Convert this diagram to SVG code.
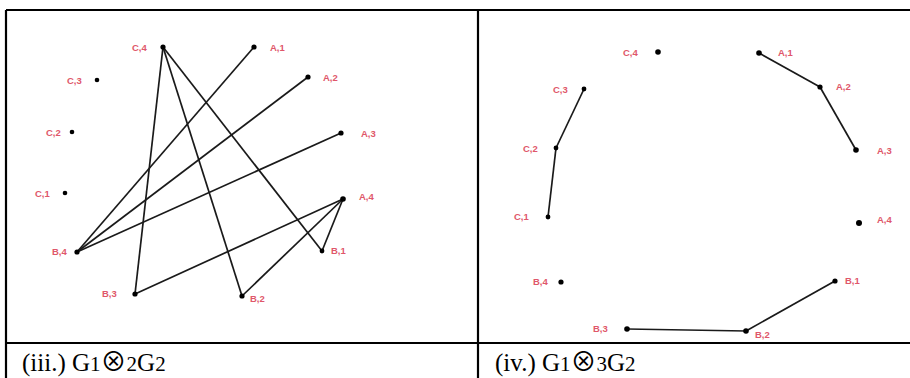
<svg xmlns="http://www.w3.org/2000/svg" width="910" height="378" viewBox="0 0 910 378">
<style>
.frame{stroke:#000;stroke-width:2.2;fill:none}
.edge{stroke:#1a1a1a;stroke-width:1.7;fill:none}
.dot{fill:#000}
.lbl{font-family:"Liberation Sans",Arial,sans-serif;font-size:9.5px;font-weight:bold;fill:#e0576a;dominant-baseline:central}
.cap{font-family:"Liberation Serif","Times New Roman",serif;font-size:25px;fill:#000}
.sub{font-size:21px}
.ot{font-family:"Noto Sans CJK SC","DejaVu Sans",sans-serif;font-weight:400;font-size:26px}
</style>
<rect x="0" y="0" width="910" height="378" fill="#fff"/>
<g id="frame">
<line class="frame" x1="6" y1="10" x2="910" y2="10"/>
<line class="frame" x1="6" y1="10" x2="6" y2="378"/>
<line class="frame" x1="478" y1="10" x2="478" y2="378"/>
<line class="frame" x1="6" y1="343" x2="910" y2="343"/>
</g>
<g id="connectors">
<line class="edge" x1="163" y1="47" x2="135" y2="294"/>
<line class="edge" x1="163" y1="47" x2="242" y2="296"/>
<line class="edge" x1="163" y1="47" x2="322" y2="251"/>
<line class="edge" x1="77" y1="252" x2="254" y2="47"/>
<line class="edge" x1="77" y1="252" x2="308" y2="77"/>
<line class="edge" x1="77" y1="252" x2="341" y2="133"/>
<line class="edge" x1="343" y1="199" x2="135" y2="294"/>
<line class="edge" x1="343" y1="199" x2="242" y2="296"/>
<line class="edge" x1="343" y1="199" x2="322" y2="251"/>
<line class="edge" x1="759" y1="53" x2="820" y2="87"/>
<line class="edge" x1="820" y1="87" x2="856" y2="150"/>
<line class="edge" x1="584" y1="89" x2="556" y2="148"/>
<line class="edge" x1="556" y1="148" x2="548" y2="217"/>
<line class="edge" x1="835" y1="281" x2="746" y2="331"/>
<line class="edge" x1="746" y1="331" x2="627" y2="329"/>
</g>
<g id="L-C4"><circle class="dot" cx="163" cy="47" r="2.6"/><text class="lbl" x="132" y="47">C,4</text></g>
<g id="L-A1"><circle class="dot" cx="254" cy="47" r="2.6"/><text class="lbl" x="270" y="47">A,1</text></g>
<g id="L-A2"><circle class="dot" cx="308" cy="77" r="2.6"/><text class="lbl" x="323" y="77">A,2</text></g>
<g id="L-C3"><circle class="dot" cx="97" cy="80" r="2.3"/><text class="lbl" x="67" y="80">C,3</text></g>
<g id="L-C2"><circle class="dot" cx="72" cy="132" r="2.3"/><text class="lbl" x="46" y="132">C,2</text></g>
<g id="L-A3"><circle class="dot" cx="341" cy="133" r="2.6"/><text class="lbl" x="361" y="133">A,3</text></g>
<g id="L-C1"><circle class="dot" cx="65" cy="193" r="2.3"/><text class="lbl" x="35" y="193">C,1</text></g>
<g id="L-A4"><circle class="dot" cx="343" cy="199" r="2.8"/><text class="lbl" x="359" y="196">A,4</text></g>
<g id="L-B4"><circle class="dot" cx="77" cy="252" r="2.6"/><text class="lbl" x="52" y="251">B,4</text></g>
<g id="L-B1"><circle class="dot" cx="322" cy="251" r="2.4"/><text class="lbl" x="331" y="250">B,1</text></g>
<g id="L-B3"><circle class="dot" cx="135" cy="294" r="2.6"/><text class="lbl" x="102" y="293">B,3</text></g>
<g id="L-B2"><circle class="dot" cx="242" cy="296" r="2.6"/><text class="lbl" x="250" y="298">B,2</text></g>
<g id="R-C4"><circle class="dot" cx="658" cy="52" r="2.8"/><text class="lbl" x="623" y="52">C,4</text></g>
<g id="R-A1"><circle class="dot" cx="759" cy="53" r="2.8"/><text class="lbl" x="778" y="52">A,1</text></g>
<g id="R-A2"><circle class="dot" cx="820" cy="87" r="2.6"/><text class="lbl" x="836" y="86">A,2</text></g>
<g id="R-C3"><circle class="dot" cx="584" cy="89" r="2.4"/><text class="lbl" x="553" y="89">C,3</text></g>
<g id="R-C2"><circle class="dot" cx="556" cy="148" r="2.4"/><text class="lbl" x="523" y="148">C,2</text></g>
<g id="R-A3"><circle class="dot" cx="856" cy="150" r="2.8"/><text class="lbl" x="877" y="150">A,3</text></g>
<g id="R-C1"><circle class="dot" cx="548" cy="217" r="2.4"/><text class="lbl" x="514" y="216">C,1</text></g>
<g id="R-A4"><circle class="dot" cx="859" cy="223" r="3"/><text class="lbl" x="877" y="219">A,4</text></g>
<g id="R-B4"><circle class="dot" cx="561" cy="282" r="2.6"/><text class="lbl" x="533" y="281">B,4</text></g>
<g id="R-B1"><circle class="dot" cx="835" cy="281" r="2.6"/><text class="lbl" x="845" y="280">B,1</text></g>
<g id="R-B3"><circle class="dot" cx="627" cy="329" r="2.8"/><text class="lbl" x="593" y="328">B,3</text></g>
<g id="R-B2"><circle class="dot" cx="746" cy="331" r="2.8"/><text class="lbl" x="755" y="334">B,2</text></g>
<g id="captions">
<text class="cap" x="22" y="371">(iii.) G<tspan class="sub">1</tspan><tspan class="ot">⊗</tspan><tspan class="sub">2</tspan>G<tspan class="sub">2</tspan></text>
<text class="cap" x="495" y="371">(iv.) G<tspan class="sub">1</tspan><tspan class="ot">⊗</tspan><tspan class="sub">3</tspan>G<tspan class="sub">2</tspan></text>
</g>
</svg>
